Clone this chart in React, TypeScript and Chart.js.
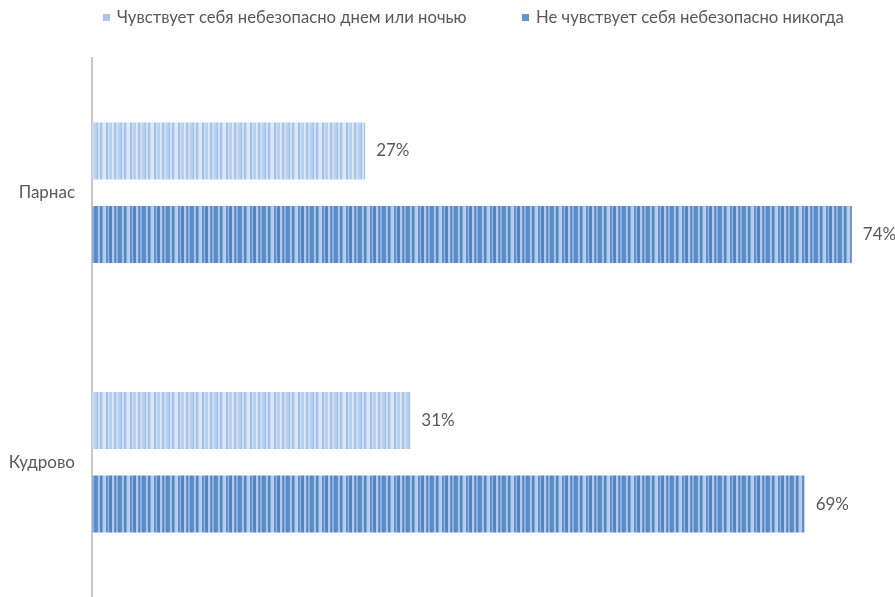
import React, { useEffect, useRef } from "react";
import { Chart, registerables } from "chart.js";

Chart.register(...registerables);

const categories = ["Парнас", "Кудрово"];
const seriesNames = [
  "Чувствует себя небезопасно днем или ночью",
  "Не чувствует себя небезопасно никогда",
];
const unsafeValues = [26.6, 31];
const neverUnsafeValues = [74, 69.4];
const xMax = 78.2;

const FONT = "Lato, 'Open Sans', sans-serif";
const TEXT_COLOR = "#595959";
const LIGHT_BASE = "#a9c6ea";
const DARK_BASE = "#6593cb";

const lightStripes = ["#b3cdec", "#d3e3f5", "#a7c4e8", "#c8dbf2", "#dbe8f7", "#a2c0e7", "#cfe0f4", "#b9d1ee", "#d8e6f6", "#a9c5e8", "#c9dcf2", "#bcd3ef"];
const darkStripes = ["#5b8bc6", "#a3c2e6", "#5485c1", "#84aada", "#b6cfed", "#6190cb", "#98b8e1", "#5483bf", "#afcaea", "#6f9ad1", "#8db0dd", "#5b8ac5"];

function makePattern(colors: string[]): CanvasPattern | string {
  const c = document.createElement("canvas");
  const w = colors.length * 2;
  c.width = w;
  c.height = 4;
  const ctx = c.getContext("2d");
  if (!ctx) return colors[0];
  colors.forEach((col, i) => {
    ctx.fillStyle = col;
    ctx.fillRect(i * 2, 0, 2, 4);
    if (i % 3 === 0) {
      ctx.fillStyle = colors[(i + 5) % colors.length];
      ctx.fillRect(i * 2 + 1, 0, 1, 4);
    }
  });
  const p = ctx.createPattern(c, "repeat");
  return p || colors[0];
}

const valueLabels = {
  id: "valueLabels",
  afterDatasetsDraw(chart: any) {
    const ctx = chart.ctx;
    ctx.save();
    ctx.font = `17px ${FONT}`;
    ctx.fillStyle = TEXT_COLOR;
    ctx.textBaseline = "middle";
    ctx.textAlign = "left";
    chart.data.datasets.forEach((ds: any, di: number) => {
      const meta = chart.getDatasetMeta(di);
      meta.data.forEach((bar: any, i: number) => {
        const v = ds.data[i];
        ctx.fillText(`${Math.round(v)}%`, bar.x + 11, bar.y);
      });
    });
    ctx.restore();
  },
};

const topLegend = {
  id: "topLegend",
  afterDraw(chart: any) {
    const ctx = chart.ctx;
    ctx.save();
    ctx.font = `16.7px ${FONT}`;
    ctx.textBaseline = "middle";
    ctx.textAlign = "left";
    const starts = [103, 522];
    const markerColors = [LIGHT_BASE, DARK_BASE];
    seriesNames.forEach((name, i) => {
      const x = starts[i];
      ctx.fillStyle = markerColors[i];
      ctx.fillRect(x, 14, 7, 7);
      ctx.fillStyle = TEXT_COLOR;
      ctx.fillText(name, x + 14, 18);
    });
    ctx.restore();
  },
};

export default function App() {
  const ref = useRef<HTMLCanvasElement>(null);
  useEffect(() => {
    if (!ref.current) return;
    const chart = new Chart(ref.current, {
      type: "bar",
      data: {
        labels: categories,
        datasets: [
          {
            label: seriesNames[0],
            data: unsafeValues,
            backgroundColor: makePattern(lightStripes) as any,
            categoryPercentage: 0.62,
            barPercentage: 0.68,
          },
          {
            label: seriesNames[1],
            data: neverUnsafeValues,
            backgroundColor: makePattern(darkStripes) as any,
            categoryPercentage: 0.62,
            barPercentage: 0.68,
          },
        ],
      },
      options: {
        indexAxis: "y",
        responsive: false,
        animation: false,
        layout: { padding: { top: 58, right: 0, bottom: -4, left: 0 } },
        plugins: {
          legend: { display: false },
          tooltip: { enabled: false },
        },
        scales: {
          x: { display: false, min: 0, max: xMax },
          y: {
            grid: { display: false, drawTicks: false },
            border: { display: true, color: "#c8c8c8", width: 2 },
            ticks: {
              color: TEXT_COLOR,
              font: { family: FONT, size: 17 },
              padding: 17,
            },
            afterFit: (s: any) => {
              s.width = 92;
              s.paddingTop = 0;
              s.paddingBottom = 0;
            },
          },
        },
      },
      plugins: [valueLabels, topLegend],
    });
    return () => chart.destroy();
  }, []);
  return (
    <div style={{ position: "fixed", left: 0, top: 0, width: 895, height: 597, background: "#fff" }}>
      <canvas ref={ref} width={895} height={597} />
    </div>
  );
}
